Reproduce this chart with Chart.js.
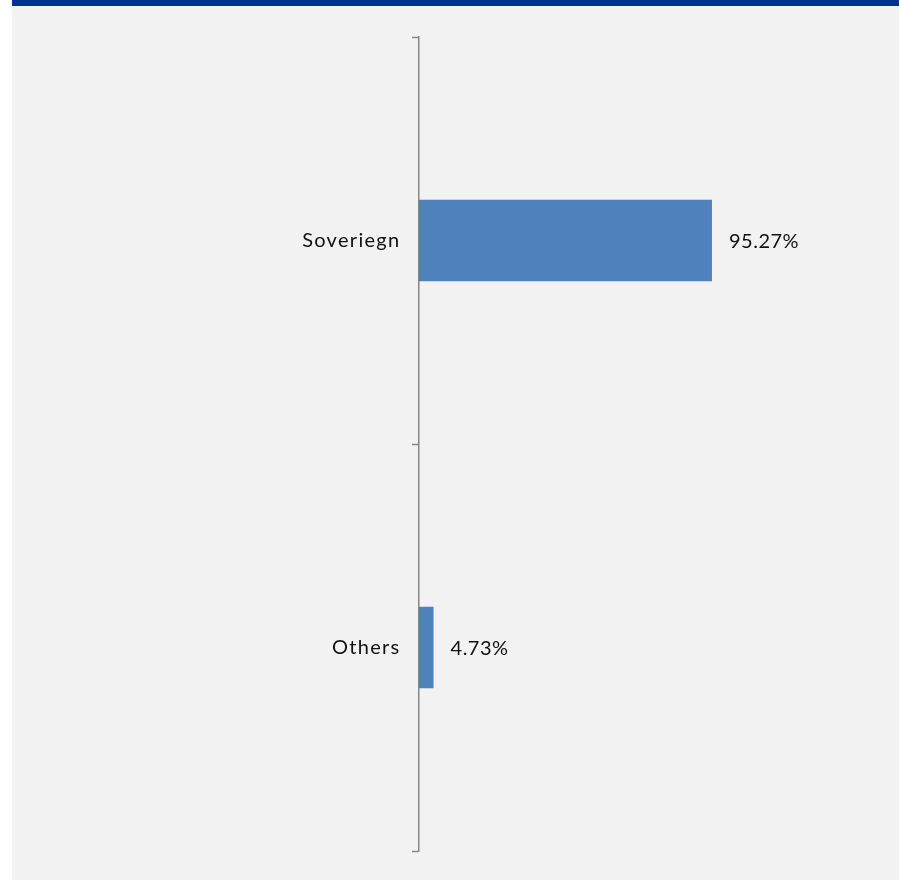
<!DOCTYPE html>
<html>
<head>
<meta charset="utf-8">
<script src="https://cdn.jsdelivr.net/npm/chart.js@4/dist/chart.umd.min.js"></script>
<style>
  html, body { margin: 0; padding: 0; background: #fff; }
  body { width: 899px; height: 882px; position: relative; overflow: hidden; }
  .topbar { position: absolute; left: 12px; top: 0; width: 887px; height: 6px; background: #04308f; }
  .panel { position: absolute; left: 12px; top: 6px; width: 887px; height: 874px; background: #f2f2f2; }
</style>
</head>
<body>
<div class="topbar"></div>
<div class="panel"><canvas id="chart" width="887" height="874"></canvas></div>
<script>
const categories = ['Soveriegn', 'Others'];
const shares = [95.27, 4.73];
const fontFamily = 'Lato, "Open Sans", sans-serif';

// wider letters, closer to the original's Century Gothic look
const spacing = {
  id: 'spacing',
  beforeDraw(chart) {
    chart.ctx.letterSpacing = '1.3px';
  },
};

// value labels to the right of each bar
const barLabels = {
  id: 'barLabels',
  afterDatasetsDraw(chart) {
    const { ctx } = chart;
    const meta = chart.getDatasetMeta(0);
    ctx.save();
    ctx.letterSpacing = '0.5px';
    ctx.font = '20px ' + fontFamily;
    ctx.fillStyle = '#111';
    ctx.textBaseline = 'middle';
    meta.data.forEach((bar, i) => {
      ctx.fillText(shares[i].toFixed(2) + '%', bar.x + 17, bar.y + 1);
    });
    ctx.restore();
  },
};

const element = document.getElementById('chart');
new Chart(element, {
  type: 'bar',
  data: {
    labels: categories,
    datasets: [{
      data: shares,
      backgroundColor: '#4f81bd',
      borderColor: '#4f81bd',
      borderWidth: 0,
      categoryPercentage: 1,
      barPercentage: 0.2,
    }],
  },
  options: {
    indexAxis: 'y',
    responsive: false,
    animation: false,
    layout: { padding: { left: 0, top: 31, bottom: 29, right: 172.5 } },
    plugins: { legend: { display: false }, tooltip: { enabled: false } },
    scales: {
      x: { display: false, min: 0, max: 100 },
      y: {
        afterFit: (scale) => { scale.width = 407; },
        border: { color: '#868686', width: 1.5 },
        grid: {
          offset: true,
          drawOnChartArea: false,
          tickLength: 7,
          tickWidth: 1.5,
          color: '#868686',
        },
        ticks: {
          color: '#111',
          padding: 11.5,
          font: { family: fontFamily, size: 20 },
        },
      },
    },
  },
  plugins: [spacing, barLabels],
});
</script>
</body>
</html>
